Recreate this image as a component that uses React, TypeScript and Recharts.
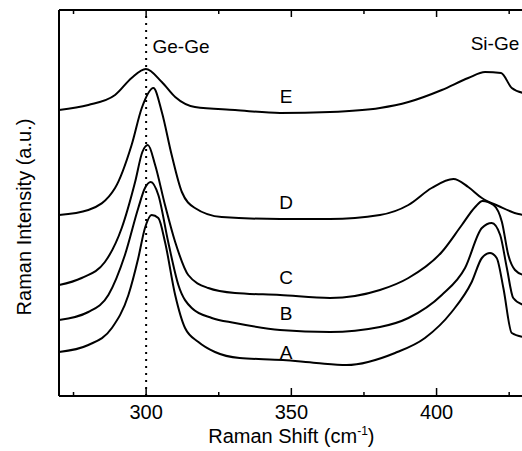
import React from "react";
import { LineChart, Line, XAxis, YAxis, ReferenceLine, ReferenceDot } from "recharts";

// Raman shift (cm-1) and intensity (a.u.)
const aShift = [270, 280.1, 288.2, 293.9, 297.3, 299.6, 301.9, 304.2, 306.5, 310, 313.4, 318, 323.7, 332.2, 347.1, 358.6, 369, 385.7, 396, 405.2, 412.1, 415.6, 418.4, 420.7, 423, 425.9, 430];
const aIntensity = [44, 51, 68, 101, 138, 168, 181, 178, 154, 101, 68, 54, 44, 38, 36, 33, 31, 43, 58, 84, 114, 138, 143, 138, 108, 63, 59];

const bShift = [270, 280.1, 287, 292.7, 297.3, 299.6, 301.6, 304.2, 307.6, 311.1, 315.7, 322.6, 330.6, 346.1, 363.3, 380.5, 390.3, 401.8, 409.8, 415.6, 419, 421.9, 424.2, 426.4, 430];
const bIntensity = [76, 84, 101, 141, 188, 208, 214, 201, 154, 111, 88, 78, 73, 66, 64, 69, 78, 101, 128, 168, 173, 161, 128, 98, 91];

const cShift = [270, 277.8, 285.8, 291.6, 296.2, 298.7, 300.6, 303.1, 306.5, 310, 314.5, 321.4, 330.6, 346.1, 363.3, 380.5, 390.3, 401.8, 408.7, 413.3, 415.8, 419.6, 422.5, 424.7, 427, 430];
const cIntensity = [111, 118, 134, 168, 214, 244, 251, 231, 191, 154, 121, 108, 103, 101, 98, 106, 118, 144, 171, 189, 195, 191, 174, 141, 126, 121];

const dShift = [270, 280.1, 289.3, 295, 298.5, 302.5, 305.4, 308.8, 312.3, 316.8, 326, 346.1, 363.3, 380.5, 390.3, 398.3, 405.8, 410.9, 415.6, 421.3, 428.2, 430];
const dIntensity = [181, 186, 208, 251, 288, 308, 284, 241, 204, 188, 179, 177, 177, 181, 191, 208, 217, 209, 198, 190, 182, 181];

const eShift = [270, 280.1, 289.3, 295, 299.9, 305.4, 310, 316.8, 330.6, 346.1, 363.3, 380.5, 390.3, 401.8, 410.9, 416.7, 422.2, 425.9, 430];
const eIntensity = [286, 291, 301, 318, 327, 314, 299, 289, 286, 283, 284, 288, 294, 306, 318, 324, 323, 308, 303];

const curveNames = ["A", "B", "C", "D", "E"];
const nameShift = 348.2;
const nameIntensity = [44, 83, 119, 194, 300];

const peakNames = ["Ge-Ge", "Si-Ge"];
const peakNameShift = [312, 420.1];
const peakNameIntensity = [350, 353];

const majorTicks = [300, 350, 400];
const allTicks = [275, 300, 325, 350, 375, 400, 425];

const FONT = "'Liberation Sans', Arial, sans-serif";

const toPoints = (xs: number[], ys: number[]) => xs.map((x, k) => ({ shift: x, intensity: ys[k] }));

const spectra = [
  toPoints(aShift, aIntensity),
  toPoints(bShift, bIntensity),
  toPoints(cShift, cIntensity),
  toPoints(dShift, dIntensity),
  toPoints(eShift, eIntensity),
];

function BottomTick({ x, y, payload }: any) {
  const major = majorTicks.includes(payload.value);
  return (
    <g>
      <line x1={x} x2={x} y1={y} y2={y - (major ? 8 : 4)} stroke="#000" strokeWidth={1.5} />
      {major && (
        <text x={x} y={y + 23} textAnchor="middle" fontSize={20} fontFamily={FONT} fill="#000">
          {payload.value}
        </text>
      )}
    </g>
  );
}

function TopTick({ x, y, payload }: any) {
  const major = majorTicks.includes(payload.value);
  return <line x1={x} x2={x} y1={y} y2={y + (major ? 7 : 4)} stroke="#000" strokeWidth={1.5} />;
}

function XTitle({ viewBox }: any) {
  const cx = viewBox.x + viewBox.width / 2;
  return (
    <text x={cx} y={viewBox.y + 47} textAnchor="middle" fontSize={20} fontFamily={FONT} fill="#000">
      Raman Shift (cm
      <tspan dy={-8} fontSize={12}>-1</tspan>
      <tspan dy={8}>)</tspan>
    </text>
  );
}

function YTitle() {
  return (
    <text x={31} y={217} transform="rotate(-90, 31, 217)" textAnchor="middle" fontSize={20} fontFamily={FONT} fill="#000">
      Raman Intensity (a.u.)
    </text>
  );
}

const centerText = (value: string) => (props: any) => {
  const vb = props.viewBox;
  return (
    <text x={vb.x + vb.width / 2} y={vb.y + vb.height / 2 + 7} textAnchor="middle" fontSize={19} fontFamily={FONT} fill="#000">
      {value}
    </text>
  );
};

export default function App() {
  return (
    <div style={{ position: "fixed", left: 0, top: 0, width: 522, height: 451, overflow: "hidden", background: "#fff" }}>
      <LineChart width={540} height={451} margin={{ top: 0, right: 16.3, left: 0, bottom: 0 }} style={{ fontFamily: FONT }}>
        <XAxis
          dataKey="shift"
          type="number"
          domain={[270, 430]}
          ticks={allTicks}
          allowDataOverflow
          height={55}
          tickSize={0}
          tickMargin={0}
          interval={0}
          axisLine={{ stroke: "#000", strokeWidth: 2 }}
          tickLine={false}
          tick={<BottomTick />}
          label={<XTitle />}
        />
        <XAxis
          xAxisId="top"
          orientation="top"
          dataKey="shift"
          type="number"
          domain={[270, 430]}
          ticks={allTicks}
          allowDataOverflow
          height={10}
          tickSize={0}
          tickMargin={0}
          interval={0}
          axisLine={{ stroke: "#000", strokeWidth: 2 }}
          tickLine={false}
          tick={<TopTick />}
        />
        <YAxis
          type="number"
          domain={[0, 386]}
          allowDataOverflow
          width={59}
          tick={false}
          tickLine={false}
          axisLine={{ stroke: "#000", strokeWidth: 2 }}
          label={<YTitle />}
        />
        <ReferenceLine x={300} stroke="#000" strokeWidth={2} strokeDasharray="2 5" />
        {spectra.map((pts, k) => (
          <Line
            key={curveNames[k]}
            data={pts}
            dataKey="intensity"
            type="monotone"
            stroke="#000"
            strokeWidth={2}
            dot={false}
            isAnimationActive={false}
          />
        ))}
        {curveNames.map((n, k) => (
          <ReferenceDot
            key={n}
            x={nameShift}
            y={nameIntensity[k]}
            r={0}
            fill="none"
            stroke="none"
            ifOverflow="visible"
            label={{ content: centerText(n) }}
          />
        ))}
        {peakNames.map((n, k) => (
          <ReferenceDot
            key={n}
            x={peakNameShift[k]}
            y={peakNameIntensity[k]}
            r={0}
            fill="none"
            stroke="none"
            ifOverflow="visible"
            label={{ content: centerText(n) }}
          />
        ))}
      </LineChart>
    </div>
  );
}
